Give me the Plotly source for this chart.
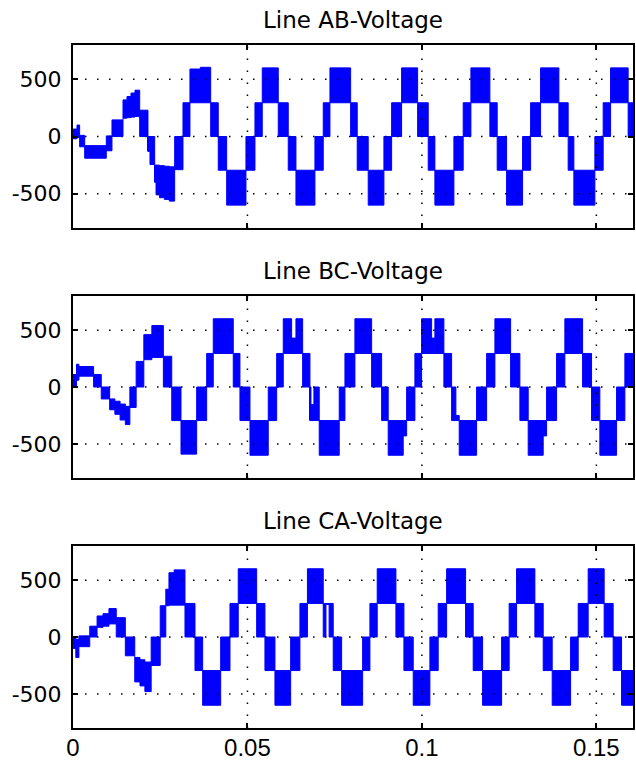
import plotly.graph_objects as go

# ---------------- data ----------------
# Each waveform is a list of band segments: segment i spans
# time[i] .. time[i+1] and is filled between low[i] and high[i] (volts).

ab_time = [0.0, 0.00115, 0.0019, 0.00335, 0.00954, 0.01117, 0.01433, 0.01547, 0.01662, 0.01777,
           0.01911, 0.02149, 0.02206, 0.02341, 0.0238, 0.0248, 0.0262, 0.0276, 0.02914, 0.03152,
           0.03352, 0.0365, 0.03946, 0.04163, 0.04404, 0.04957, 0.05215,
           0.05424, 0.05883, 0.06169, 0.0639, 0.06934, 0.07172,
           0.07364, 0.07957, 0.08146, 0.08461, 0.08911, 0.09132,
           0.09418, 0.09877, 0.10181, 0.10372, 0.10917, 0.11183,
           0.11404, 0.11948, 0.12158, 0.12427, 0.12885, 0.13115,
           0.13401, 0.13926, 0.14192, 0.14355, 0.14957, 0.15195,
           0.15407, 0.15911, 0.1606]
ab_low = [-20, -10, -90, -190, -125, 0, 160, 165, 170, 175,
          0, -130, -245, -400, -510, -535, -550, -565, -290, 0,
          295, 295, 0, -295, -600, -295, 0,
          295, 0, -295, -600, -295, 0,
          295, 0, -295, -600, -295, 0,
          295, 0, -295, -600, -295, 0,
          295, 0, -295, -600, -295, 0,
          295, 0, -295, -600, -295, 0,
          295, 0]
ab_high = [65, 100, 10, -80, 5, 145, 320, 350, 380, 405,
           230, 0, 0, -250, -250, -255, -260, -265, 0, 295,
           590, 605, 295, 0, -295, 0, 295,
           600, 295, 0, -295, 0, 295,
           600, 295, 0, -295, 0, 295,
           600, 295, 0, -295, 0, 295,
           600, 295, 0, -295, 0, 295,
           600, 295, 0, -295, 0, 295,
           600, 295]

bc_time = [0.0, 0.001, 0.0017, 0.0059, 0.0081, 0.0105, 0.012, 0.0135, 0.015, 0.0163,
           0.0181, 0.0203, 0.0226, 0.0259, 0.0283, 0.03095,
           0.03544, 0.03831, 0.0402, 0.04593, 0.04785, 0.05072,
           0.05596, 0.05837, 0.06026, 0.06266, 0.0639, 0.06582, 0.06791, 0.0682, 0.06905, 0.07057,
           0.0763, 0.07794, 0.0808, 0.08559, 0.08845, 0.09034, 0.09464,
           0.09562, 0.09799, 0.09991, 0.10278, 0.10372, 0.1063, 0.10851, 0.10974, 0.11069,
           0.11567, 0.11854, 0.12092, 0.12542, 0.12808, 0.13046, 0.13476,
           0.13573, 0.1386, 0.14097, 0.14605, 0.14862, 0.151,
           0.15579, 0.15817, 0.1606]
bc_low = [0, 60, 95, 0, -105, -200, -240, -290, -330, -180,
          0, 240, 260, 0, -295, -590,
          -295, 0, 295, 0, -295, -600,
          -295, 0, 295, 295, 295, 0, -295, -295, -295, -600,
          -295, 0, 295, 0, -295, -600, -430,
          -295, 0, 295, 295, 295, 0, -295, -295, -600,
          -295, 0, 295, 0, -295, -600, -430,
          -295, 0, 295, 0, -295, -600,
          -295, 0]
bc_high = [110, 200, 180, 110, 0, -105, -125, -150, -170, 0,
           225, 460, 540, 270, 0, -295,
           0, 295, 600, 295, 0, -295,
           0, 295, 600, 430, 600, 295, 0, -155, 0, -295,
           0, 295, 600, 295, 0, -295, -295,
           0, 295, 600, 430, 600, 295, 0, -250, -295,
           0, 295, 600, 295, 0, -295, -295,
           0, 295, 600, 295, 0, -295,
           0, 295]

ca_time = [0.0, 0.0008, 0.0017, 0.0048, 0.0069, 0.0086, 0.0103, 0.0124, 0.015, 0.0177,
           0.0192, 0.0206, 0.0224, 0.025, 0.0266, 0.0275, 0.029,
           0.03209, 0.03496, 0.03716, 0.04232, 0.04499, 0.04736,
           0.05264, 0.05501, 0.05788, 0.06238, 0.06504, 0.06719,
           0.07172, 0.0725, 0.0734, 0.07458, 0.07699, 0.08301, 0.0851, 0.08719,
           0.09255, 0.09484, 0.09751, 0.10229, 0.10467, 0.10708,
           0.11252, 0.1147, 0.11739, 0.12284, 0.12501, 0.12713,
           0.13238, 0.13476, 0.13734, 0.14261, 0.14479, 0.14765,
           0.15223, 0.15481, 0.15722, 0.1606]
ca_low = [-100, -180, -85, 0, 85, 95, 115, 0, -165, -395,
          -430, -480, -250, 0, 275, 280, 280,
          0, -295, -600, -295, 0, 295,
          0, -295, -600, -295, 0, 295,
          0, 290, 0, -295, -600, -295, 0, 295,
          0, -295, -600, -295, 0, 295,
          0, -295, -600, -295, 0, 295,
          0, -295, -600, -295, 0, 295,
          0, -295, -600]
ca_high = [5, -20, 10, 95, 185, 205, 250, 170, 0, -180,
           -200, -220, 0, 275, 420, 565, 590,
           295, 0, -295, 0, 295, 600,
           295, 0, -295, 0, 295, 600,
           295, 295, 295, 0, -295, 0, 295, 600,
           295, 0, -295, 0, 295, 600,
           295, 0, -295, 0, 295, 600,
           295, 0, -295, 0, 295, 600,
           295, 0, -295]

titles = ["Line AB-Voltage", "Line BC-Voltage", "Line CA-Voltage"]
x_ticks = [0, 0.05, 0.1, 0.15]
x_tick_text = ["0", "0.05", "0.1", "0.15"]
y_ticks = [-500, 0, 500]
y_tick_text = ["-500", "0", "500"]
x_range = [0, 0.1605]
y_range = [-800, 800]

# ---------------- figure ----------------
BLUE = "#0000ff"
W, H = 636, 762
M_L, M_R, M_T, M_B = 73, 3, 45, 34
PH = H - M_T - M_B
frames_px = [(45, 228), (296, 478), (546, 728)]   # top, bottom pixel of each axes box
title_px = [20, 271, 521]


def py2paper(py):
    return (H - M_B - py) / PH


def outline_paths(time, low, high):
    """Outline of every band segment, plus a vertical connector
    wherever two neighbouring bands do not overlap."""
    xs, ys = [], []
    n = len(low)
    for i in range(n):
        t0, t1 = time[i], time[i + 1]
        xs += [t0, t1, t1, t0, t0, None]
        ys += [low[i], low[i], high[i], high[i], low[i], None]
        if i + 1 < n:
            if high[i] < low[i + 1]:
                xs += [t1, t1, None]
                ys += [high[i], low[i + 1], None]
            elif low[i] > high[i + 1]:
                xs += [t1, t1, None]
                ys += [high[i + 1], low[i], None]
    return xs, ys


fig = go.Figure()
waves = [(ab_time, ab_low, ab_high), (bc_time, bc_low, bc_high), (ca_time, ca_low, ca_high)]
shapes = []
annotations = []
for k, (t, lo, hi) in enumerate(waves):
    xa = "x" if k == 0 else f"x{k + 1}"
    ya = "y" if k == 0 else f"y{k + 1}"
    centers = [(t[i] + t[i + 1]) / 2 for i in range(len(lo))]
    widths = [t[i + 1] - t[i] for i in range(len(lo))]
    heights = [hi[i] - lo[i] for i in range(len(lo))]
    fig.add_trace(go.Bar(x=centers, y=heights, base=lo, width=widths,
                         marker=dict(color=BLUE, line=dict(width=0)),
                         xaxis=xa, yaxis=ya, hoverinfo="skip", showlegend=False))
    xs, ys = outline_paths(t, lo, hi)
    fig.add_trace(go.Scatter(x=xs, y=ys, mode="lines",
                             line=dict(color=BLUE, width=1, simplify=False),
                             connectgaps=False, xaxis=xa, yaxis=ya,
                             hoverinfo="skip", showlegend=False))
    top, bot = frames_px[k]
    sfx = "" if k == 0 else str(k + 1)
    fig.update_layout(**{
        f"xaxis{sfx}": dict(domain=[0, 1], range=x_range, anchor=ya, tickvals=x_ticks,
                            ticktext=x_tick_text, showticklabels=(k == 2), ticks="inside",
                            ticklen=5, tickwidth=1.5, tickcolor="black", showline=True,
                            linecolor="black", linewidth=2, mirror="ticks", showgrid=False,
                            zeroline=False, automargin=False, ticklabelstandoff=-3,
                            tickfont=dict(family="Liberation Sans", size=24, color="black")),
        f"yaxis{sfx}": dict(domain=[py2paper(bot), py2paper(top)], range=y_range, anchor=xa,
                            tickvals=y_ticks, ticktext=y_tick_text, ticks="inside", ticklen=5,
                            tickwidth=1.5, tickcolor="black", showline=True, linecolor="black",
                            linewidth=2, mirror="ticks", showgrid=False, zeroline=False,
                            ticklabelstandoff=5, automargin=False,
                            tickfont=dict(family="DejaVu Sans", size=22, color="black")),
    })
    for yv in y_ticks:
        shapes.append(dict(type="line", xref=xa, yref=ya, x0=x_range[0], x1=x_range[1],
                           y0=yv, y1=yv, layer="above",
                           line=dict(color="black", width=1.5, dash="1.5px,10.5px")))
    for xv in x_ticks[1:]:
        shapes.append(dict(type="line", xref=xa, yref=ya, x0=xv, x1=xv,
                           y0=y_range[0], y1=y_range[1], layer="above",
                           line=dict(color="black", width=1.5, dash="1.5px,10.5px")))
    annotations.append(dict(text=titles[k], xref="paper", yref="paper", x=0.5,
                            y=py2paper(title_px[k]), xanchor="center", yanchor="middle",
                            showarrow=False,
                            font=dict(family="DejaVu Sans", size=23, color="black")))

fig.update_layout(width=W, height=H, margin=dict(l=M_L, r=M_R, t=M_T, b=M_B),
                  paper_bgcolor="white", plot_bgcolor="white", barmode="overlay",
                  shapes=shapes, annotations=annotations, showlegend=False)

fig.write_html("out.html", config={"displayModeBar": False},
               post_script="document.body.style.margin='0px';"
                           "document.body.style.overflow='hidden';")
